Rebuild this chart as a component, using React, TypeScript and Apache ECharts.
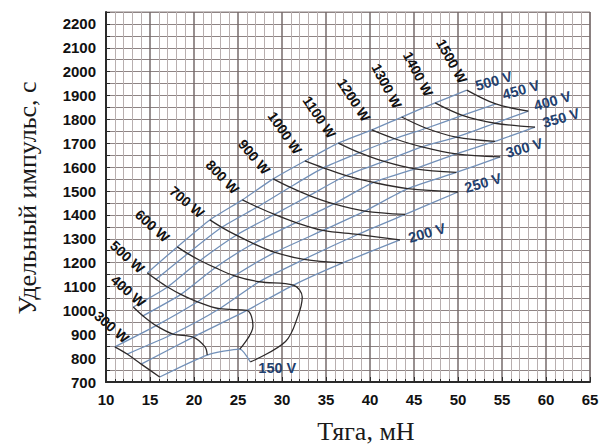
import React, { useEffect, useRef } from 'react';
import * as echarts from 'echarts';

// Power levels (W) and discharge voltages (V)
const powers = [300, 400, 500, 600, 700, 800, 900, 1000, 1100, 1200, 1300, 1400, 1500];
const voltages = [150, 200, 250, 300, 350, 400, 450, 500];

// Operating points [thrust mN, specific impulse s] for each voltage, aligned with `powers`
type Pt = [number, number] | null;
const v150: Pt[] = [[16.1, 721], [21.5, 813], [25.2, 838], [26.4, 784], null, null, null, null, null, null, null, null, null];
const v200: Pt[] = [[14.0, 775], [19.9, 888], [26.0, 1000], [31.3, 1106], [36.9, 1199], [43.4, 1295], null, null, null, null, null, null, null];
const v250: Pt[] = [[12.4, 817], [17.6, 901], [22.9, 1007], [27.4, 1120], [32.5, 1214], [38.6, 1318], [44.0, 1402], [50.0, 1496], null, null, null, null, null];
const v300: Pt[] = [[11.0, 847], [15.7, 936], [20.4, 1036], [24.6, 1145], [29.2, 1243], [34.65, 1335], [39.4, 1416], [44.3, 1510], [49.8, 1578], [54.8, 1643], null, null, null];
const v350: Pt[] = [null, [14.2, 977], [18.5, 1067], [22.4, 1179], [26.75, 1280], [31.6, 1368], [35.9, 1446], [40.4, 1536], [45.1, 1593], [49.8, 1656], [54.2, 1708], [58.75, 1768], null];
const v400: Pt[] = [null, [13.1, 1014], [17.0, 1098], [20.7, 1209], [24.8, 1315], [29.15, 1402], [33.1, 1481], [37.3, 1565], [41.6, 1624], [45.9, 1685], [49.8, 1726], [54.2, 1784], [58.0, 1835]];
const v450: Pt[] = [null, null, [15.7, 1130], [19.3, 1238], [23.15, 1348], [27.2, 1433], [30.9, 1516], [34.7, 1597], [38.8, 1661], [42.8, 1719], [46.4, 1763], [50.5, 1817], [54.3, 1865]];
const v500: Pt[] = [null, null, [14.7, 1157], [18.1, 1266], [21.8, 1379], [25.5, 1463], [29.0, 1551], [32.6, 1626], [36.4, 1701], [40.2, 1756], [43.6, 1810], [47.4, 1869], [51.0, 1923]];

// Extra points of the power curves between the 200 V and 150 V points (the "hooks")
const hook400: [number, number][] = [[21.25, 847]];
const hook500: [number, number][] = [[26.7, 935]];
const hook600: [number, number][] = [[32.3, 1056], [31.8, 975], [30.4, 870]];

// Axis tick labels
const xTicks = [10, 15, 20, 25, 30, 35, 40, 45, 50, 55, 60, 65];
const yTicks = [700, 800, 900, 1000, 1100, 1200, 1300, 1400, 1500, 1600, 1700, 1800, 1900, 2000, 2100, 2200];

// Label placement styles (pixel offsets from anchor, rotation in degrees)
const powerLabelStyle = [
  { dx: -3, dy: -20, rot: 41 },
  { dx: -5, dy: -16, rot: 41 },
  { dx: -20, dy: -16, rot: 42 },
  { dx: -25, dy: -21, rot: 42 },
  { dx: -23, dy: -18, rot: 40 },
  { dx: -20, dy: -23, rot: 46 },
  { dx: -19, dy: -22, rot: 50 },
  { dx: -20, dy: -28, rot: 55 },
  { dx: -19, dy: -26, rot: 56 },
  { dx: -18, dy: -30, rot: 57 },
  { dx: -15, dy: -31, rot: 62 },
  { dx: -17, dy: -29, rot: 62 },
  { dx: -15, dy: -29, rot: 61 },
];
const voltageLabelStyle = [
  { dx: 27, dy: 6, rot: 0 },
  { dx: 27, dy: -7, rot: 16 },
  { dx: 25, dy: -9, rot: 16 },
  { dx: 24, dy: -9, rot: 16 },
  { dx: 26, dy: -9, rot: 16 },
  { dx: 24, dy: -10, rot: 16 },
  { dx: 25, dy: -14, rot: 16 },
  { dx: 27, dy: -9, rot: 16 },
];

export default function App() {
  const ref = useRef<HTMLDivElement>(null);
  useEffect(() => {
    if (!ref.current) return;
    document.body.style.margin = '0';
    const chart = echarts.init(ref.current, null, { renderer: 'svg' });
    const table = [v150, v200, v250, v300, v350, v400, v450, v500];
    const hooks: Record<number, [number, number][]> = { 400: hook400, 500: hook500, 600: hook600 };

    const voltageLines = voltages.map((v, vi) => table[vi].filter((p) => p !== null) as [number, number][]);
    const powerCurves = powers.map((p, pi) => {
      const pts: [number, number][] = [];
      for (let vi = voltages.length - 1; vi >= 0; vi--) {
        const pt = table[vi][pi];
        if (!pt) continue;
        if (voltages[vi] === 150 && hooks[p]) pts.push(...hooks[p]);
        pts.push(pt);
      }
      return pts;
    });

    const series: any[] = [];
    voltageLines.forEach((d, vi) => {
      series.push({
        type: 'line', name: voltages[vi] + ' V', data: d, showSymbol: false, smooth: 0.2,
        lineStyle: { color: '#7290b8', width: 1.3 }, z: 2, silent: true,
      });
    });
    powerCurves.forEach((d, pi) => {
      series.push({
        type: 'line', name: powers[pi] + ' W', data: d, showSymbol: false, smooth: 0.35,
        lineStyle: { color: '#2e2a2a', width: 1.3 }, z: 3, silent: true,
      });
    });

    chart.setOption({
      animation: false,
      backgroundColor: '#ffffff',
      grid: { left: 106, right: 15, top: 12, bottom: 64, show: true, borderColor: '#8c8282', borderWidth: 1 },
      xAxis: {
        type: 'value', min: xTicks[0], max: xTicks[xTicks.length - 1], interval: 5,
        axisLine: { show: true, lineStyle: { color: '#2a2a2a', width: 2 } },
        axisTick: { show: true, inside: true, length: 5, lineStyle: { color: '#2a2a2a' } },
        minorTick: { show: true, splitNumber: 5, length: 3, lineStyle: { color: '#2a2a2a' } },
        axisLabel: { margin: 10, color: '#111111', fontSize: 15, fontWeight: 'bold', fontFamily: '"Liberation Sans", Arial, sans-serif' },
        splitLine: { show: true, lineStyle: { color: '#766b6b', width: 1.5 } },
        minorSplitLine: { show: true, lineStyle: { color: '#b8afaf', width: 1 } },
      },
      yAxis: {
        type: 'value', min: 700, max: 2250, interval: 50,
        axisLine: { show: true, lineStyle: { color: '#2a2a2a', width: 2 } },
        axisTick: { show: true, inside: true, length: 4, lineStyle: { color: '#2a2a2a' } },
        axisLabel: {
          margin: 10, color: '#111111', fontSize: 15, fontWeight: 'bold', fontFamily: '"Liberation Sans", Arial, sans-serif',
          formatter: (val: number) => (yTicks.indexOf(val) >= 0 ? String(val) : ''),
        },
        splitLine: { show: true, lineStyle: { color: '#8e8484', width: 1 } },
      },
      series,
    });

    const gfx: any[] = [];
    powerCurves.forEach((d, pi) => {
      const [px, py] = chart.convertToPixel({ gridIndex: 0 }, d[0]) as number[];
      const s = powerLabelStyle[pi];
      gfx.push({
        type: 'text', x: px + s.dx, y: py + s.dy, rotation: (-s.rot * Math.PI) / 180, z: 10,
        style: { text: powers[pi] + ' W', fill: '#111111', font: 'bold 14px "Liberation Sans", Arial, sans-serif', textAlign: 'center', textVerticalAlign: 'middle' },
      });
    });
    voltageLines.forEach((d, vi) => {
      const [px, py] = chart.convertToPixel({ gridIndex: 0 }, d[d.length - 1]) as number[];
      const s = voltageLabelStyle[vi];
      gfx.push({
        type: 'text', x: px + s.dx, y: py + s.dy, rotation: (s.rot * Math.PI) / 180, z: 10,
        style: { text: voltages[vi] + ' V', fill: '#22406e', font: 'bold 14.5px "Liberation Sans", Arial, sans-serif', textAlign: 'center', textVerticalAlign: 'middle' },
      });
    });
    gfx.push({
      type: 'text', x: 27, y: 198, rotation: Math.PI / 2,
      style: { text: 'Удельный импульс, с', fill: '#1a1a1a', font: '26px "Liberation Serif", "Times New Roman", serif', textAlign: 'center', textVerticalAlign: 'middle' },
    });
    gfx.push({
      type: 'text', x: 366, y: 431,
      style: { text: 'Тяга, мН', fill: '#1a1a1a', font: '26px "Liberation Serif", "Times New Roman", serif', textAlign: 'center', textVerticalAlign: 'middle' },
    });
    chart.setOption({ graphic: gfx });

    return () => chart.dispose();
  }, []);
  return <div ref={ref} style={{ position: 'fixed', left: 0, top: 0, width: 605, height: 446, background: '#fff' }} />;
}
